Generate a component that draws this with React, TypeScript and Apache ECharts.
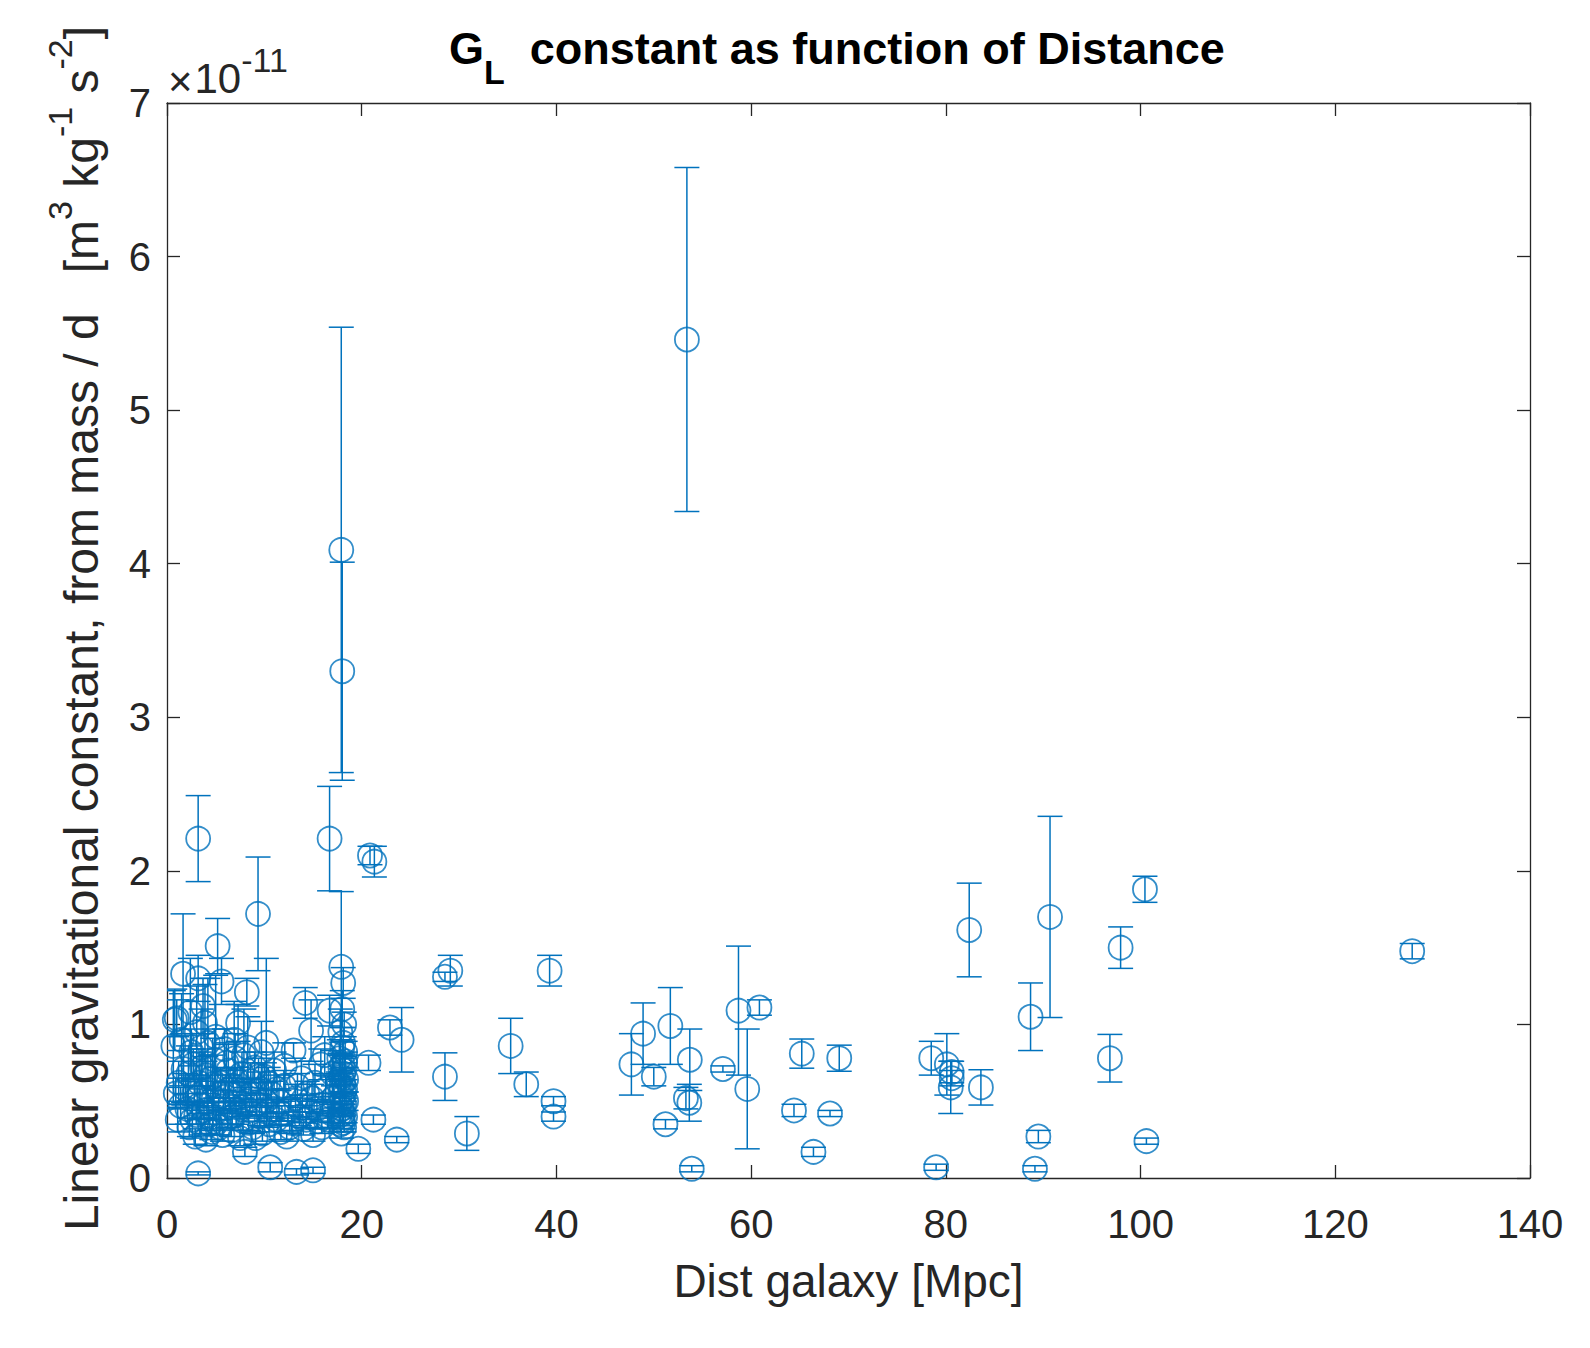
import React, { useEffect, useRef } from 'react';
import * as echarts from 'echarts';

const BLUE = '#0072BD';
const INK = '#262626';
const FONT = '"Liberation Sans", Arial, Helvetica, sans-serif';

// each entry: [distance in Mpc, G_L in units of 1e-11, +/- error]
const localGalaxies = [
  [0.65, 0.86, 0.36], [0.8, 1.03, 0.2], [1.0, 1.04, 0.12], [1.2, 0.62, 0.14],
  [1.65, 1.33, 0.39], [1.7, 0.71, 0.22], [2.1, 0.45, 0.1], [2.3, 0.33, 0.06],
  [2.5, 0.82, 0.15], [2.6, 0.38, 0.12], [2.8, 0.55, 0.08], [2.9, 0.27, 0.05],
  [3.05, 0.95, 0.3], [3.2, 1.3, 0.15], [3.2, 0.03, 0.01], [3.2, 2.21, 0.28],
  [3.3, 0.62, 0.2], [3.4, 0.48, 0.1], [3.5, 0.35, 0.07], [3.6, 0.72, 0.12],
  [3.7, 1.12, 0.18], [3.9, 1.01, 0.25], [4.0, 0.25, 0.04], [4.1, 0.58, 0.09],
  [4.2, 0.88, 0.42], [4.3, 0.41, 0.06], [4.5, 0.65, 0.15], [4.6, 0.3, 0.05],
  [4.8, 0.52, 0.11], [4.9, 0.77, 0.2], [5.1, 0.36, 0.08], [5.2, 1.51, 0.18],
  [5.3, 0.45, 0.07], [5.5, 0.62, 0.1], [5.6, 1.28, 0.15], [5.7, 0.28, 0.04],
  [5.9, 0.84, 0.13], [6.0, 0.53, 0.09], [6.2, 0.39, 0.06], [6.3, 0.7, 0.18],
  [6.5, 0.47, 0.05], [6.6, 0.31, 0.04], [6.8, 0.6, 0.1], [7.0, 0.78, 0.16],
  [7.1, 0.42, 0.07], [7.3, 1.01, 0.12], [7.4, 0.55, 0.08], [7.5, 0.26, 0.05],
  [7.7, 0.68, 0.14], [7.8, 0.37, 0.06], [8.0, 0.17, 0.03], [8.1, 0.5, 0.09],
  [8.2, 1.21, 0.09], [8.3, 0.85, 0.2], [8.5, 0.44, 0.05], [8.6, 0.63, 0.12],
  [8.8, 0.33, 0.04], [9.0, 0.72, 0.1], [9.2, 0.48, 0.07], [9.35, 1.72, 0.37],
  [9.5, 0.4, 0.06], [9.6, 0.58, 0.11], [9.8, 0.29, 0.05], [10.0, 0.66, 0.09],
  [10.2, 0.88, 0.55], [10.3, 0.43, 0.06], [10.5, 0.35, 0.05], [10.6, 0.07, 0.03],
  [10.7, 0.55, 0.08], [11.0, 0.7, 0.12], [11.2, 0.38, 0.04], [11.5, 0.5, 0.07],
  [11.7, 0.3, 0.05], [12.0, 0.6, 0.1], [12.3, 0.27, 0.03], [12.5, 0.45, 0.06],
  [12.8, 0.36, 0.05], [13.0, 0.83, 0.05], [13.2, 0.52, 0.09], [13.3, 0.04, 0.02],
  [13.6, 0.4, 0.06], [13.8, 0.65, 0.11], [14.0, 0.32, 0.04], [14.2, 1.14, 0.1],
  [14.4, 0.55, 0.08], [14.6, 0.44, 0.06], [14.8, 0.96, 0.2], [15.0, 0.28, 0.04],
  [15.0, 0.05, 0.02], [15.2, 0.62, 0.12], [15.5, 0.37, 0.05], [15.8, 0.74, 0.1],
  [16.0, 0.48, 0.07], [16.3, 0.58, 0.09], [16.7, 1.09, 0.1], [16.7, 2.21, 0.34],
  [16.9, 0.42, 0.06], [17.0, 0.68, 0.15],
  [0.9, 0.55, 0.1], [1.1, 0.38, 0.08], [1.4, 0.47, 0.12], [1.5, 0.9, 0.3],
  [1.9, 0.58, 0.1], [2.2, 0.68, 0.18], [2.4, 1.08, 0.35], [2.7, 0.74, 0.1],
  [3.0, 0.41, 0.06], [3.1, 0.52, 0.08], [3.5, 0.85, 0.25], [3.8, 0.44, 0.05],
  [4.0, 0.67, 0.12], [4.4, 0.35, 0.04], [4.7, 0.61, 0.3], [5.0, 0.92, 0.4],
  [5.4, 0.33, 0.05], [5.8, 0.5, 0.07], [6.1, 0.75, 0.12], [6.4, 0.58, 0.09],
  [6.7, 0.4, 0.05], [6.9, 0.9, 0.25], [7.2, 0.64, 0.08], [7.6, 0.46, 0.06],
  [7.9, 0.8, 0.3], [8.4, 0.36, 0.05], [8.7, 0.55, 0.09], [9.1, 0.26, 0.04],
  [9.4, 0.66, 0.12], [9.7, 0.82, 0.2], [10.1, 0.5, 0.07], [10.4, 0.62, 0.1],
  [10.9, 0.45, 0.06], [11.3, 0.58, 0.09], [11.8, 0.42, 0.05], [12.1, 0.73, 0.15],
  [12.6, 0.33, 0.04], [13.4, 0.6, 0.08], [13.9, 0.47, 0.07], [14.3, 0.38, 0.05],
  [14.9, 0.52, 0.09], [15.4, 0.45, 0.06], [15.9, 0.33, 0.04], [16.2, 0.8, 0.12],
  [16.5, 0.38, 0.05], [17.1, 0.52, 0.08],
];

// the crowded column around 18 Mpc
const virgoColumn = [
  [17.9, 4.09, 1.45], [18.0, 3.3, 0.71], [17.9, 1.375, 0.49], [18.1, 1.27, 0.1],
  [18.0, 1.1, 0.12], [18.2, 1.0, 0.08], [17.8, 0.95, 0.15], [18.1, 0.88, 0.1],
  [18.3, 0.82, 0.07], [17.7, 0.78, 0.12], [18.0, 0.74, 0.06], [18.2, 0.7, 0.09],
  [17.9, 0.66, 0.05], [18.1, 0.62, 0.08], [18.3, 0.58, 0.06], [17.8, 0.55, 0.1],
  [18.0, 0.52, 0.04], [18.2, 0.48, 0.07], [17.9, 0.45, 0.05], [18.1, 0.42, 0.06],
  [18.0, 0.38, 0.04], [17.8, 0.35, 0.05], [18.2, 0.33, 0.03], [17.9, 0.29, 0.03],
  [17.6, 0.62, 0.07], [17.7, 0.48, 0.05], [17.8, 0.72, 0.09], [18.0, 0.85, 0.05],
  [18.1, 0.68, 0.04], [18.2, 0.55, 0.05], [18.3, 0.4, 0.04], [18.4, 0.64, 0.08],
  [18.4, 0.5, 0.06], [17.9, 0.6, 0.04], [18.0, 0.45, 0.03], [18.1, 0.36, 0.04],
  [18.3, 0.76, 0.06], [17.7, 0.41, 0.05],
];

const farGalaxies = [
  [19.65, 0.19, 0.03], [20.7, 0.75, 0.05], [20.85, 2.1, 0.06], [21.3, 2.06, 0.1],
  [21.2, 0.38, 0.03], [22.9, 0.98, 0.05], [23.6, 0.25, 0.02], [24.1, 0.9, 0.21],
  [28.55, 1.31, 0.03], [29.1, 1.35, 0.1], [28.55, 0.66, 0.155], [30.8, 0.29, 0.11],
  [35.3, 0.86, 0.18], [36.9, 0.61, 0.08], [39.3, 1.35, 0.1], [39.7, 0.5, 0.03],
  [39.7, 0.4, 0.03], [47.7, 0.74, 0.2], [48.9, 0.94, 0.2], [50.0, 0.66, 0.06],
  [51.2, 0.35, 0.03], [51.7, 0.99, 0.25], [53.3, 0.52, 0.07], [53.4, 5.46, 1.12],
  [53.65, 0.49, 0.12], [53.7, 0.77, 0.2], [53.9, 0.06, 0.02], [57.1, 0.71, 0.02],
  [58.7, 1.09, 0.42], [59.6, 0.58, 0.39], [60.85, 1.11, 0.05], [64.4, 0.44, 0.04],
  [65.2, 0.81, 0.095], [66.4, 0.17, 0.03], [68.1, 0.42, 0.02], [69.05, 0.78, 0.085],
  [78.5, 0.78, 0.11], [79.0, 0.07, 0.02], [80.1, 0.74, 0.2], [80.6, 0.69, 0.07],
  [80.6, 0.65, 0.05], [80.5, 0.59, 0.17], [82.4, 1.615, 0.305], [83.6, 0.59, 0.115],
  [88.7, 1.05, 0.22], [89.15, 0.06, 0.02], [89.5, 0.27, 0.04], [90.7, 1.7, 0.655],
  [96.85, 0.78, 0.155], [97.95, 1.5, 0.135], [100.45, 1.88, 0.085], [100.6, 0.24, 0.02],
  [127.9, 1.477, 0.05],
];

const xRange = { min: 0, max: 140, step: 20 };
const yRange = { min: 0, max: 7, step: 1 };

const GLChart: React.FC = () => {
  const chartRef = useRef<HTMLDivElement>(null);

  useEffect(() => {
    const chart = echarts.init(chartRef.current!, null, { renderer: 'svg' });
    const points = [...localGalaxies, ...virgoColumn, ...farGalaxies];

    const axisBase = {
      type: 'value',
      axisLine: { show: true, onZero: false, lineStyle: { color: INK, width: 1.3 } },
      axisTick: { show: true, inside: true, length: 13, lineStyle: { color: INK, width: 1.3 } },
      splitLine: { show: false },
    };
    const tickLabel = { fontSize: 40, color: INK, fontFamily: FONT };

    const options = {
      animation: false,
      grid: { left: 159, top: 95, width: 1363, height: 1075 },
      xAxis: [
        {
          ...axisBase,
          min: xRange.min, max: xRange.max, interval: xRange.step,
          position: 'bottom',
          axisLabel: { ...tickLabel, margin: 26 },
          name: 'Dist galaxy [Mpc]',
          nameLocation: 'middle',
          nameGap: 80,
          nameTextStyle: { fontSize: 46, color: INK, fontFamily: FONT },
        },
        {
          ...axisBase,
          min: xRange.min, max: xRange.max, interval: xRange.step,
          position: 'top',
          axisLabel: { show: false },
        },
      ],
      yAxis: [
        {
          ...axisBase,
          min: yRange.min, max: yRange.max, interval: yRange.step,
          position: 'left',
          axisLabel: { ...tickLabel, margin: 16 },
          name: '{n|Linear gravitational constant, from mass / d   [m}{s|3}{n| kg}{s|-1}{n| s}{s|-2}{n|]}',
          nameLocation: 'middle',
          nameGap: 48,
          nameTextStyle: {
            color: INK,
            fontFamily: FONT,
            padding: [0, 0, 0, 24],
            rich: {
              n: { fontSize: 48, color: INK, fontFamily: FONT },
              s: { fontSize: 34, color: INK, fontFamily: FONT, padding: [0, 0, 42, 0] },
            },
          },
        },
        {
          ...axisBase,
          min: yRange.min, max: yRange.max, interval: yRange.step,
          position: 'right',
          axisLabel: { show: false },
        },
      ],
      graphic: [
        {
          type: 'text',
          x: 441,
          y: 40,
          style: {
            text: '{g|G}{sub|L}{t|  constant as function of Distance}',
            verticalAlign: 'middle',
            textVerticalAlign: 'middle',
            rich: {
              g: { fontSize: 45, fontWeight: 'bold', fontFamily: FONT, fill: '#000', color: '#000' },
              sub: { fontSize: 34, fontWeight: 'bold', fontFamily: FONT, fill: '#000', color: '#000', padding: [48, 0, 0, 0] },
              t: { fontSize: 45, fontWeight: 'bold', fontFamily: FONT, fill: '#000', color: '#000' },
            },
          },
        },
        {
          type: 'text',
          x: 160,
          y: 70,
          style: {
            text: '{x|\u00d7}{n|10}{e|-11}',
            verticalAlign: 'middle',
            textVerticalAlign: 'middle',
            rich: {
              x: { fontSize: 42, fontFamily: FONT, fill: INK, color: INK, padding: [6, 2, 0, 0] },
              n: { fontSize: 42, fontFamily: FONT, fill: INK, color: INK },
              e: { fontSize: 34, fontFamily: FONT, fill: INK, color: INK, padding: [0, 0, 36, 0] },
            },
          },
        },
      ],
      series: [
        {
          type: 'custom',
          xAxisIndex: 0,
          yAxisIndex: 0,
          clip: true,
          data: points,
          renderItem: (params: any, api: any) => {
            const x = api.value(0);
            const y = api.value(1);
            const e = api.value(2);
            const hi = api.coord([x, y + e]);
            const lo = api.coord([x, y - e]);
            const hw = 12.5;
            const style = { stroke: BLUE, lineWidth: 1.5, fill: null };
            return {
              type: 'group',
              children: [
                { type: 'line', shape: { x1: hi[0], y1: hi[1], x2: lo[0], y2: lo[1] }, style },
                { type: 'line', shape: { x1: hi[0] - hw, y1: hi[1], x2: hi[0] + hw, y2: hi[1] }, style },
                { type: 'line', shape: { x1: lo[0] - hw, y1: lo[1], x2: lo[0] + hw, y2: lo[1] }, style },
              ],
            };
          },
        },
        {
          type: 'scatter',
          xAxisIndex: 0,
          yAxisIndex: 0,
          data: points.map((p) => [p[0], p[1]]),
          symbol: 'circle',
          symbolSize: 24,
          itemStyle: { color: 'rgba(0,0,0,0)', borderColor: BLUE, borderWidth: 1.8 },
          emphasis: { disabled: true },
        },
      ],
    };

    chart.setOption(options as any);

    return () => {
      chart.dispose();
    };
  }, []);

  return <div ref={chartRef} style={{ width: '1574px', height: '1332px' }} />;
};

export default function App() {
  return <GLChart />;
}
